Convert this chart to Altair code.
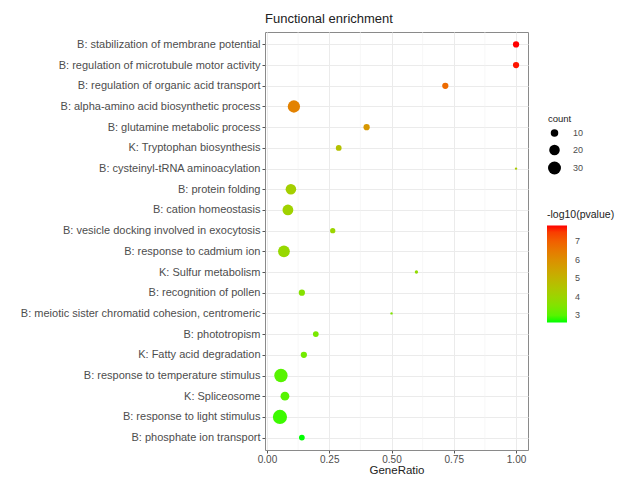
import altair as alt
import pandas as pd

terms = [
    "B: stabilization of membrane potential",
    "B: regulation of microtubule motor activity",
    "B: regulation of organic acid transport",
    "B: alpha-amino acid biosynthetic process",
    "B: glutamine metabolic process",
    "K: Tryptophan biosynthesis",
    "B: cysteinyl-tRNA aminoacylation",
    "B: protein folding",
    "B: cation homeostasis",
    "B: vesicle docking involved in exocytosis",
    "B: response to cadmium ion",
    "K: Sulfur metabolism",
    "B: recognition of pollen",
    "B: meiotic sister chromatid cohesion, centromeric",
    "B: phototropism",
    "K: Fatty acid degradation",
    "B: response to temperature stimulus",
    "K: Spliceosome",
    "B: response to light stimulus",
    "B: phosphate ion transport",
]
gene_ratio = [1.0, 1.0, 0.716, 0.108, 0.40, 0.288, 1.0, 0.096, 0.084, 0.264,
              0.068, 0.60, 0.14, 0.50, 0.196, 0.148, 0.056, 0.072, 0.052, 0.14]
counts = [7, 7, 7, 27, 7, 6, 1, 20, 21, 5, 25, 2, 7, 1, 6, 7, 32, 14, 36, 6]
neglog10p = [7.86, 7.8, 6.8, 6.3, 5.8, 4.6, 4.3, 4.2, 4.1, 4.0,
             3.9, 3.8, 3.6, 3.5, 3.4, 3.3, 3.0, 3.0, 2.8, 2.62]
x_ticks = [0.0, 0.25, 0.5, 0.75, 1.0]
minor_ticks = [0.125, 0.375, 0.625, 0.875]
count_legend_values = [10, 20, 30]
color_legend_values = [3, 4, 5, 6, 7]

df = pd.DataFrame({"term": terms, "GeneRatio": gene_ratio,
                   "count": counts, "p": neglog10p})
minor_df = pd.DataFrame({"v": minor_ticks})

FONT = "Liberation Sans"
x_scale = alt.Scale(domain=[-0.008, 1.048], nice=False, zero=False)

minor = alt.Chart(minor_df).mark_rule(color="#f2f2f2", strokeWidth=0.6).encode(
    x=alt.X("v:Q", scale=x_scale, title="GeneRatio")
)

points = alt.Chart(df).mark_circle(opacity=1).encode(
    x=alt.X("GeneRatio:Q", scale=x_scale, title="GeneRatio",
            axis=alt.Axis(values=x_ticks, format=".2f", grid=True,
                          gridColor="#ebebeb", gridWidth=1, domain=False,
                          tickColor="#555555", tickSize=3, labelColor="#4d4d4d",
                          labelFontSize=10, labelFont=FONT, labelPadding=1,
                          titleFont=FONT, titleFontSize=11.5, titleFontWeight="normal",
                          titleColor="#222222", titleY=23,
                          titleBaseline="alphabetic")),
    y=alt.Y("term:N", sort=terms, title=None,
            scale=alt.Scale(padding=0.6),
            axis=alt.Axis(grid=True, gridColor="#ebebeb", gridWidth=1, domain=False,
                          tickColor="#555555", tickSize=3, labelColor="#4d4d4d",
                          labelFontSize=11, labelFont=FONT, labelPadding=2,
                          labelLimit=400)),
    size=alt.Size("count:Q", scale=alt.Scale(domain=[1, 36], range=[5.6, 201]),
                  legend=alt.Legend(title="count", values=count_legend_values,
                                    orient="none", legendX=283, legendY=82,
                                    symbolFillColor="black", symbolStrokeColor="black",
                                    symbolStrokeWidth=0, symbolType="circle",
                                    titleFont=FONT, titleFontSize=9.5,
                                    titleFontWeight="normal", titleColor="#222222",
                                    labelFont=FONT, labelFontSize=9,
                                    labelColor="#4d4d4d", rowPadding=6,
                                    labelOffset=12)),
    color=alt.Color("p:Q",
                    scale=alt.Scale(domain=[2.62, 7.86], range=["#00ff00", "#ff0000"],
                                    interpolate="lab"),
                    legend=alt.Legend(title="-log10(pvalue)", values=color_legend_values,
                                      orient="none", legendX=282, legendY=178,
                                      gradientLength=97, gradientThickness=20,
                                      gradientStrokeWidth=0, direction="vertical",
                                      titleFont=FONT, titleFontSize=10.5,
                                      titleFontWeight="normal", titleColor="#222222",
                                      labelFont=FONT, labelFontSize=9,
                                      labelColor="#4d4d4d", labelOffset=8)),
)

chart = alt.layer(minor, points).properties(
    width=263, height=418,
    title=alt.Title("Functional enrichment", anchor="start", frame="group",
                    fontSize=13, fontWeight="normal", font=FONT, color="#222222",
                    offset=6),
    autosize=alt.AutoSizeParams(type="none"),
    padding={"left": 257, "top": 24, "right": 93, "bottom": 24},
).configure_view(stroke="#8a8a8a", strokeWidth=1)

chart.save("out.html", embed_options={"renderer": "svg", "actions": False})
